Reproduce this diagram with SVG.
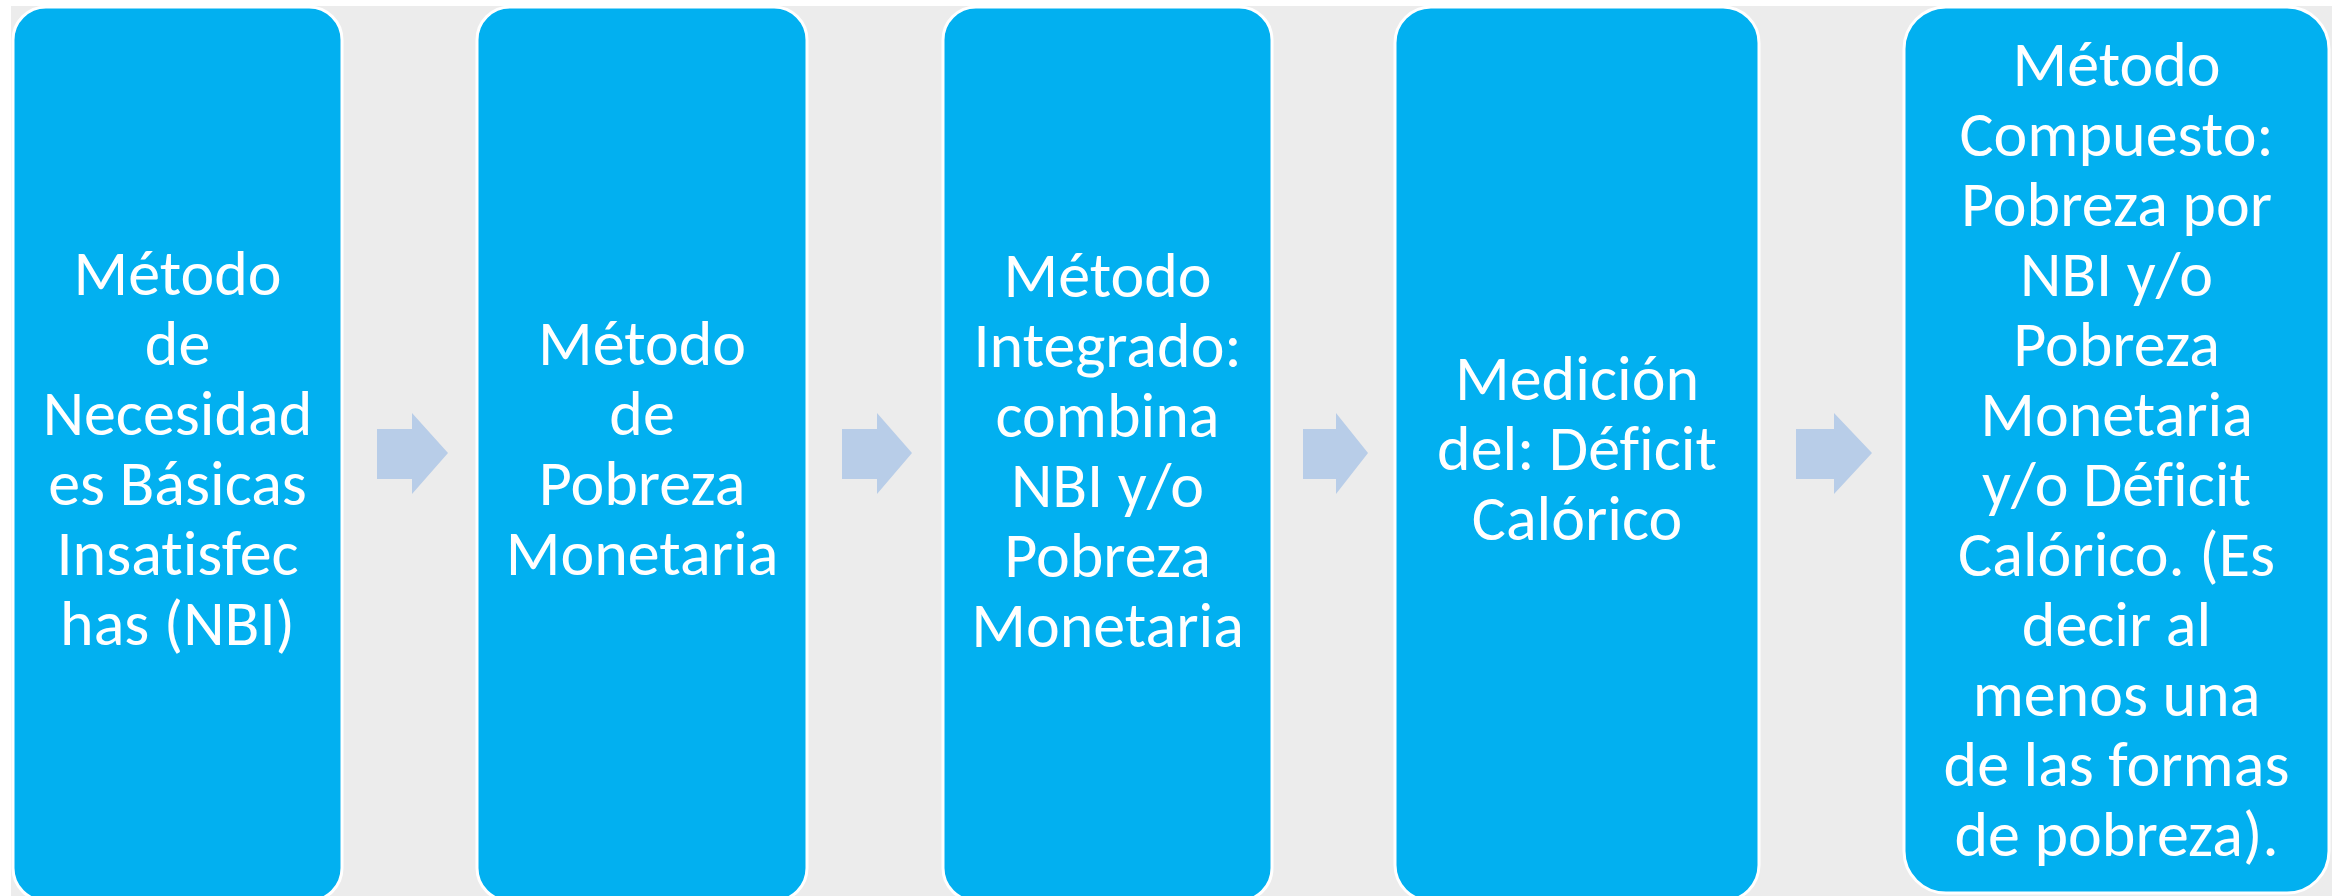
<svg xmlns="http://www.w3.org/2000/svg" width="2338" height="896" viewBox="0 0 2338 896">
<style>
.box{fill:#02B0F0;stroke:#FFFFFF;stroke-width:3}
.arr{fill:#B8CDE8}
.t{font-family:Carlito,Calibri,Lato,"Liberation Sans",sans-serif;font-size:64px;fill:#FFFFFF;text-anchor:middle;font-variant-ligatures:none}
</style>
<rect x="0" y="0" width="2338" height="896" fill="#FFFFFF"/>
<rect x="11" y="6" width="2321" height="890" fill="#ECECEC"/>
<g id="connectors">
<polygon class="arr" points="377,429 412,429 412,413 448,453 412,494 412,479 377,479"/>
<polygon class="arr" points="842,429 877,429 877,413 912,453 877,494 877,479 842,479"/>
<polygon class="arr" points="1303,429 1336,429 1336,413 1368,453 1336,494 1336,479 1303,479"/>
<polygon class="arr" points="1796,429 1834,429 1834,413 1872,453 1834,494 1834,479 1796,479"/>
</g>
<g id="node1">
<rect class="box" x="13" y="7" width="329" height="894" rx="33" ry="33"/>
<text class="t"><tspan x="177.5" y="295">Método</tspan><tspan x="177.5" y="365">de</tspan><tspan x="177.5" y="435">Necesidad</tspan><tspan x="177.5" y="505">es Básicas</tspan><tspan x="177.5" y="575">Insatisfec</tspan><tspan x="177.5" y="645">has (NBI)</tspan></text>
</g>
<g id="node2">
<rect class="box" x="477" y="7" width="330" height="894" rx="33" ry="33"/>
<text class="t"><tspan x="642" y="365">Método</tspan><tspan x="642" y="435">de</tspan><tspan x="642" y="505">Pobreza</tspan><tspan x="642" y="575">Monetaria</tspan></text>
</g>
<g id="node3">
<rect class="box" x="943" y="7" width="329" height="894" rx="33" ry="33"/>
<text class="t"><tspan x="1107.5" y="297">Método</tspan><tspan x="1107.5" y="367">Integrado:</tspan><tspan x="1107.5" y="437">combina</tspan><tspan x="1107.5" y="507">NBI y/o</tspan><tspan x="1107.5" y="577">Pobreza</tspan><tspan x="1107.5" y="647">Monetaria</tspan></text>
</g>
<g id="node4">
<rect class="box" x="1395" y="7" width="364" height="894" rx="36" ry="36"/>
<text class="t"><tspan x="1577" y="400">Medición</tspan><tspan x="1577" y="470">del: Déficit</tspan><tspan x="1577" y="540">Calórico</tspan></text>
</g>
<g id="node5">
<rect class="box" x="1904" y="7" width="425" height="886" rx="42" ry="42"/>
<text class="t"><tspan x="2116.5" y="86">Método</tspan><tspan x="2116.5" y="156">Compuesto:</tspan><tspan x="2116.5" y="226">Pobreza por</tspan><tspan x="2116.5" y="296">NBI y/o</tspan><tspan x="2116.5" y="366">Pobreza</tspan><tspan x="2116.5" y="436">Monetaria</tspan><tspan x="2116.5" y="506">y/o Déficit</tspan><tspan x="2116.5" y="576">Calórico. (Es</tspan><tspan x="2116.5" y="646">decir al</tspan><tspan x="2116.5" y="716">menos una</tspan><tspan x="2116.5" y="786">de las formas</tspan><tspan x="2116.5" y="856">de pobreza).</tspan></text>
</g>
</svg>
